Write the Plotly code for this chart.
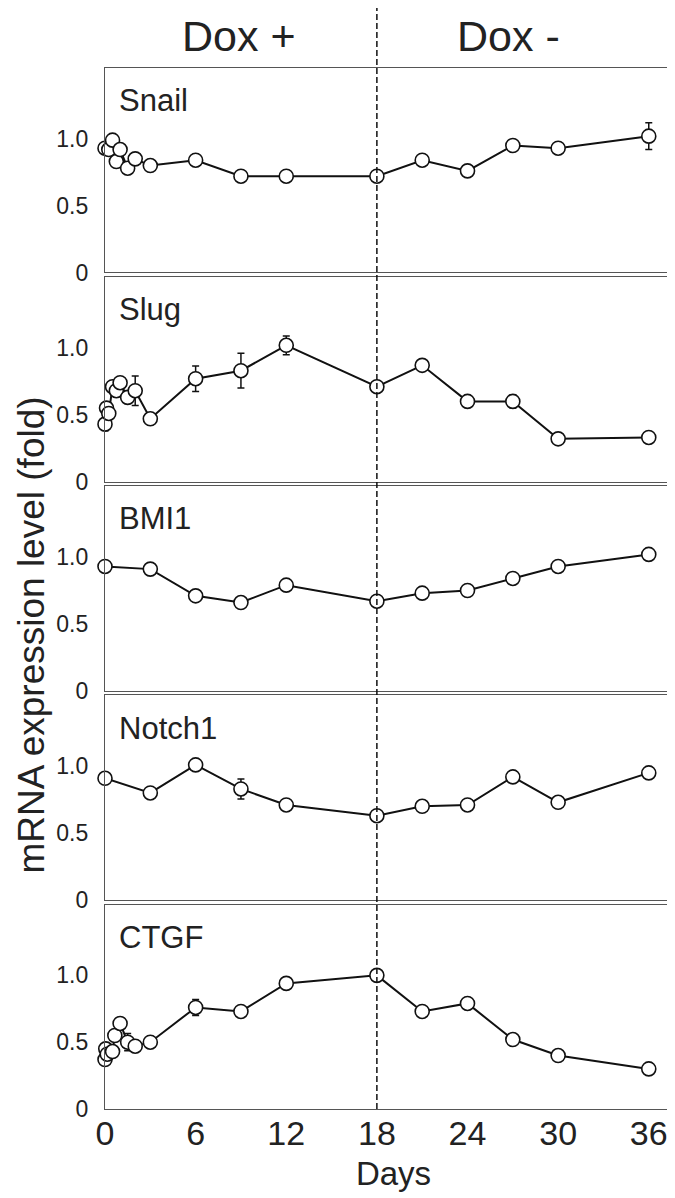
import plotly.graph_objects as go
from plotly.subplots import make_subplots

genes = ["Snail", "Slug", "BMI1", "Notch1", "CTGF"]

snail_days = [0, 0.25, 0.5, 0.75, 1, 1.5, 2, 3, 6, 9, 12, 18, 21, 24, 27, 30, 36]
snail_vals = [0.93, 0.92, 0.99, 0.83, 0.92, 0.78, 0.85, 0.80, 0.84, 0.72, 0.72, 0.72, 0.84, 0.76, 0.95, 0.93, 1.02]
snail_err = [0, 0, 0, 0, 0, 0, 0, 0, 0, 0, 0, 0, 0, 0, 0, 0, 0.10]

slug_days = [0, 0.1, 0.25, 0.5, 0.75, 1, 1.5, 2, 3, 6, 9, 12, 18, 21, 24, 27, 30, 36]
slug_vals = [0.43, 0.55, 0.51, 0.71, 0.68, 0.74, 0.63, 0.68, 0.47, 0.77, 0.83, 1.02, 0.71, 0.87, 0.60, 0.60, 0.32, 0.33]
slug_err = [0.05, 0, 0, 0, 0, 0, 0, 0.11, 0, 0.095, 0.13, 0.07, 0, 0.03, 0.03, 0.05, 0, 0]

bmi1_days = [0, 3, 6, 9, 12, 18, 21, 24, 27, 30, 36]
bmi1_vals = [0.93, 0.91, 0.71, 0.66, 0.79, 0.67, 0.73, 0.75, 0.84, 0.93, 1.02]
bmi1_err = [0, 0, 0, 0.04, 0, 0, 0, 0, 0, 0, 0]

notch1_days = [0, 3, 6, 9, 12, 18, 21, 24, 27, 30, 36]
notch1_vals = [0.91, 0.80, 1.01, 0.83, 0.71, 0.63, 0.70, 0.71, 0.92, 0.73, 0.95]
notch1_err = [0, 0, 0, 0.075, 0, 0, 0, 0, 0, 0, 0]

ctgf_days = [0, 0.05, 0.15, 0.5, 0.65, 1, 1.5, 2, 3, 6, 9, 12, 18, 21, 24, 27, 30, 36]
ctgf_vals = [0.37, 0.45, 0.41, 0.43, 0.55, 0.64, 0.50, 0.47, 0.50, 0.76, 0.73, 0.94, 1.00, 0.73, 0.79, 0.52, 0.40, 0.30]
ctgf_err = [0, 0, 0, 0, 0, 0, 0.065, 0, 0, 0.06, 0, 0, 0, 0, 0, 0, 0, 0]

x_ticks = [0, 6, 12, 18, 24, 30, 36]
y_ticks = [0, 0.5, 1.0]
y_ticktext = ["0", "0.5", "1.0"]

series = [
    (snail_days, snail_vals, snail_err),
    (slug_days, slug_vals, slug_err),
    (bmi1_days, bmi1_vals, bmi1_err),
    (notch1_days, notch1_vals, notch1_err),
    (ctgf_days, ctgf_vals, ctgf_err),
]

REG = "Liberation Sans, Arial, sans-serif"
TXT = "#222222"

fig = make_subplots(rows=5, cols=1, shared_xaxes=True, vertical_spacing=0.0045)

for i, (d, v, e) in enumerate(series):
    r = i + 1
    fig.add_trace(go.Scatter(
        x=d, y=v, mode="lines+markers",
        line=dict(color="#111111", width=2),
        marker=dict(size=14, color="white", line=dict(color="#111111", width=1.6)),
        error_y=dict(type="data", array=e, visible=True, color="#111111", thickness=1.5, width=3.5),
        cliponaxis=False, showlegend=False,
    ), row=r, col=1)
    fig.update_yaxes(
        range=[0, 1.53], tickvals=y_ticks, ticktext=y_ticktext,
        showgrid=False, zeroline=False, showline=True, mirror=True,
        linecolor="#555555", linewidth=1.2, ticks="",
        ticklabelstandoff=11,
        tickfont=dict(family=REG, size=23, color=TXT),
        row=r, col=1)
    fig.update_xaxes(
        range=[0, 38.2], tickvals=x_ticks, showgrid=False, zeroline=False,
        showline=True, mirror=True, linecolor="#555555", linewidth=1.2, ticks="",
        showticklabels=(r == 5),
        ticklabelstandoff=-6,
        tickfont=dict(family=REG, size=34, color=TXT),
        row=r, col=1)
    yref = "y domain" if r == 1 else f"y{r} domain"
    xref = "x domain" if r == 1 else f"x{r} domain"
    fig.add_annotation(text=genes[i], xref=xref, yref=yref, x=0.02, y=0.84,
                       xanchor="left", yanchor="middle", showarrow=False,
                       font=dict(family=REG, size=31, color=TXT))

fig.update_xaxes(title=dict(text="Days", font=dict(family=REG, size=33, color=TXT), standoff=10), row=5, col=1)

# dashed separator at day 18
fig.add_shape(type="line", xref="x", yref="paper", x0=18, x1=18, y0=0, y1=1.06,
              line=dict(color="#111111", width=1.5, dash="6px,3px"))

fig.add_annotation(text="Dox +", xref="paper", yref="paper", x=0.232, y=1.031,
                   xanchor="center", yanchor="middle", showarrow=False,
                   font=dict(family=REG, size=43, color=TXT))
fig.add_annotation(text="Dox -", xref="paper", yref="paper", x=0.70, y=1.031,
                   xanchor="center", yanchor="middle", showarrow=False,
                   font=dict(family=REG, size=43, color=TXT))
fig.add_annotation(text="mRNA expression level (fold)", xref="paper", yref="paper",
                   x=-0.128, y=0.455, xanchor="center", yanchor="middle", textangle=-90,
                   showarrow=False, font=dict(family=REG, size=37, color=TXT))

fig.update_layout(
    width=675, height=1198,
    margin=dict(l=97, r=1, t=60, b=97),
    paper_bgcolor="white", plot_bgcolor="white",
)

fig.write_html("out.html")
